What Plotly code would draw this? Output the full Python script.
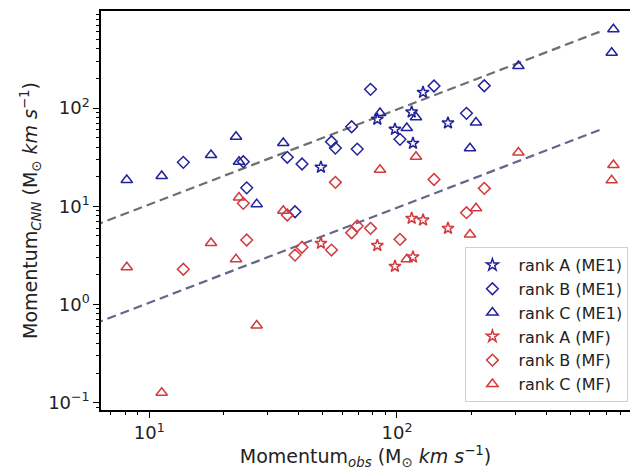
import plotly.graph_objects as go

# ---------------- data ----------------
# rank A: observed momentum and CNN momentum for two models
a_obs = [49.3, 83.3, 98.1, 114.6, 116.0, 127.4, 160.6]
a_me1 = [24.9, 76.9, 60.7, 91.0, 43.7, 144.5, 70.4]
a_mf = [4.19, 3.98, 2.44, 7.53, 3.04, 7.24, 5.95]

# rank B
b_obs = [13.72, 23.96, 24.73, 36.07, 38.75, 41.36, 54.4, 56.4, 65.6, 69.1,
         78.2, 102.8, 141.1, 190.8, 225.1]
b_me1 = [28.0, 28.4, 15.4, 31.5, 8.79, 26.9, 45.4, 39.1, 64.5, 38.2,
         155.0, 48.0, 167.5, 88.3, 168.7]
b_mf = [2.28, 10.7, 4.53, 8.14, 3.18, 3.82, 3.58, 17.5, 5.37, 6.29,
        5.95, 4.60, 18.7, 8.59, 15.2]

# rank C
c_obs = [8.11, 11.22, 17.75, 22.39, 23.02, 27.14, 34.75, 85.4, 109.5, 119.3,
         197.1, 208.4, 309.2, 735.9, 747.7]
c_me1 = [18.5, 20.3, 33.2, 51.0, 28.4, 10.5, 44.0, 88.9, 62.6, 80.4,
         38.9, 71.2, 267.8, 365.7, 633.0]
c_mf = [2.39, 0.126, 4.22, 2.88, 12.26, 0.61, 9.0, 23.5, 2.88, 31.9,
        5.15, 9.52, 35.2, 18.35, 26.3]

# guide lines (fitted relation, upper and one decade below)
guide_x = [6.0, 670.0]
guide_coef = 1.125
guide_slope = 0.967
guide_offset = 0.1

# axis ticks
y_tickvals = [0.1, 1, 10, 100]
y_ticktext = ["10<sup>\u22121</sup>", "10<sup>0</sup>", "10<sup>1</sup>", "10<sup>2</sup>"]
x_tickvals = [10, 100]
x_ticktext = ["10<sup>1</sup>", "10<sup>2</sup>"]

BLUE = "#22229c"
RED = "#d23a3e"

fig = go.Figure()

upper = [guide_coef * x ** guide_slope for x in guide_x]
lower = [u * guide_offset for u in upper]
fig.add_trace(go.Scatter(x=guide_x, y=upper, mode="lines", showlegend=False,
                         line=dict(color="#6f6f6f", width=2.2, dash="9px,5px"),
                         hoverinfo="skip"))
fig.add_trace(go.Scatter(x=guide_x, y=lower, mode="lines", showlegend=False,
                         line=dict(color="#66668c", width=2.2, dash="9px,5px"),
                         hoverinfo="skip"))

series = [
    ("rank A (ME1)", a_obs, a_me1, "star-open", BLUE, 9),
    ("rank B (ME1)", b_obs, b_me1, "diamond-open", BLUE, 9),
    ("rank C (ME1)", c_obs, c_me1, "triangle-up-open", BLUE, 10),
    ("rank A (MF)", a_obs, a_mf, "star-open", RED, 9),
    ("rank B (MF)", b_obs, b_mf, "diamond-open", RED, 9),
    ("rank C (MF)", c_obs, c_mf, "triangle-up-open", RED, 10),
]
for name, xs, ys, sym, col, sz in series:
    fig.add_trace(go.Scatter(
        x=xs, y=ys, mode="markers", name=name,
        marker=dict(symbol=sym, size=sz, color=col, line=dict(color=col, width=1.5)),
    ))

minor_x = [m * 10 ** e for e in range(0, 3) for m in range(2, 10)]
minor_y = [m * 10 ** e for e in range(-2, 3) for m in range(2, 10)]

fig.update_layout(
    width=630, height=473,
    margin=dict(l=101, r=0, t=11, b=63),
    paper_bgcolor="white", plot_bgcolor="white",
    font=dict(family="DejaVu Sans", size=16, color="#222"),
    legend=dict(
        x=0.997, y=0.02, xanchor="right", yanchor="bottom",
        bgcolor="rgba(255,255,255,0.85)", bordercolor="#d0d0d0", borderwidth=1,
        font=dict(size=16, color="#222"), tracegroupgap=0, itemsizing="trace",
        itemwidth=42,
    ),
)

fig.update_xaxes(
    type="log", range=[0.805, 2.9407],
    showgrid=False, zeroline=False,
    showline=True, linecolor="black", linewidth=1.5, mirror=True,
    ticks="outside", ticklen=6, tickwidth=1.2, tickcolor="black",
    tickvals=x_tickvals, ticktext=x_ticktext,
    tickfont=dict(size=18, color="#222"),
    minor=dict(tickvals=minor_x, ticks="outside", ticklen=3.5, tickwidth=1, tickcolor="black", showgrid=False),
    title=dict(text="Momentum<sub><i>obs</i></sub> (M<sub>\u2299</sub> <i>km</i> <i>s</i><sup>\u22121</sup>)",
               font=dict(size=19, color="#222"), standoff=4),
)
fig.update_yaxes(
    type="log", range=[-1.075, 2.988],
    showgrid=False, zeroline=False,
    showline=True, linecolor="black", linewidth=1.5, mirror=False,
    ticks="outside", ticklen=6, tickwidth=1.2, tickcolor="black",
    tickvals=y_tickvals, ticktext=y_ticktext,
    tickfont=dict(size=18, color="#222"),
    minor=dict(tickvals=minor_y, ticks="outside", ticklen=3.5, tickwidth=1, tickcolor="black", showgrid=False),
    title=dict(text="Momentum<sub><i>CNN</i></sub> (M<sub>\u2299</sub> <i>km</i> <i>s</i><sup>\u22121</sup>)",
               font=dict(size=19, color="#222"), standoff=6),
)

fig.write_html("out.html")
